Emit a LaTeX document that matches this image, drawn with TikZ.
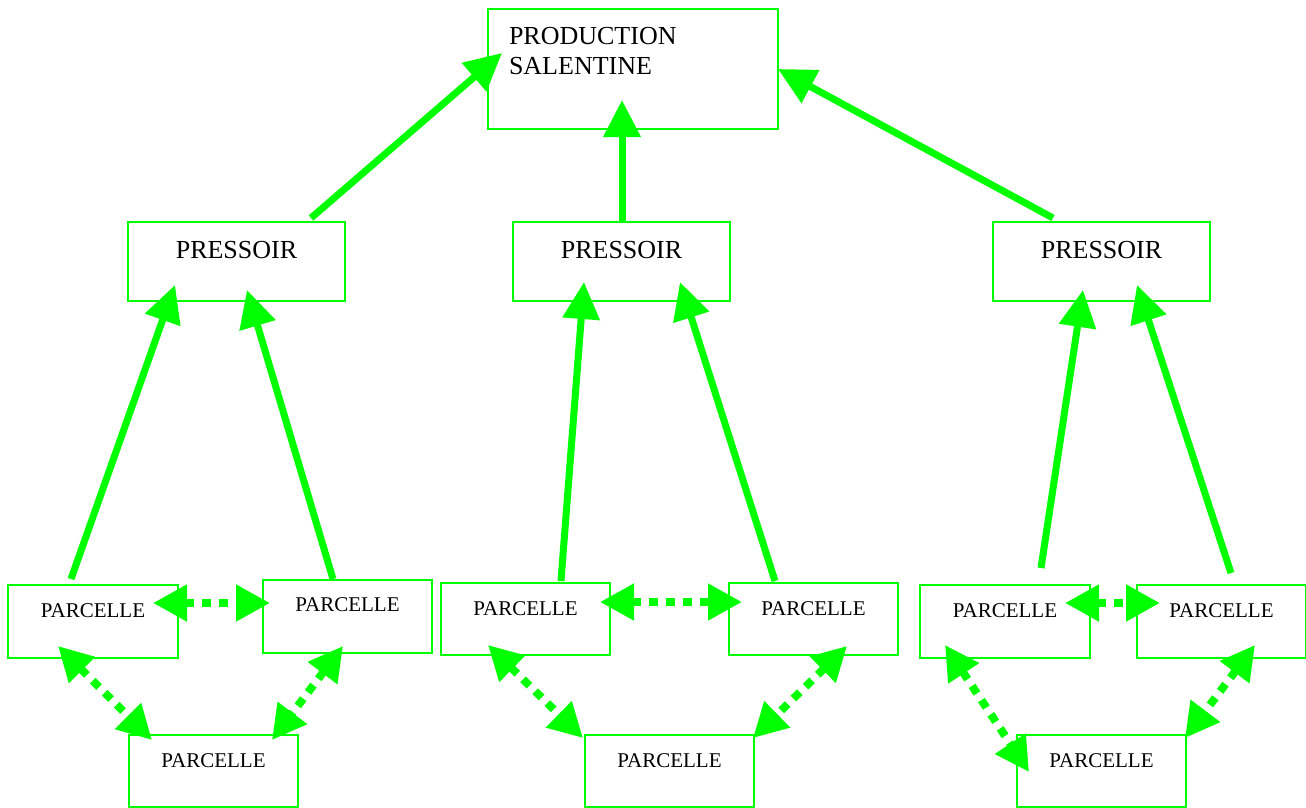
\documentclass[tikz,border=0pt]{standalone}
\usepackage{fontspec}
\setmainfont{Liberation Serif}
\usetikzlibrary{arrows.meta,calc}
\definecolor{linegreen}{RGB}{0,255,0}
\tikzset{
  box/.style={draw=linegreen, line width=2pt, inner sep=0pt, anchor=north west, align=center, text=black},
  parcelle/.style={box, minimum width=169pt, text height=32pt, text depth=40pt, font=\fontsize{21}{25}\selectfont},
  pressoir/.style={box, minimum width=217pt, text height=36pt, text depth=43pt, font=\fontsize{26}{30}\selectfont},
  flow/.style={draw=linegreen, line width=7pt, -{Triangle[length=37pt,width=36pt]}},
  link/.style={draw=linegreen, line width=8pt, dash pattern=on 9pt off 8pt,
    {Triangle[length=34pt,width=35pt]}-{Triangle[length=34pt,width=35pt]}}
}
\begin{document}
\begin{tikzpicture}[x=1pt,y=-1pt]
\useasboundingbox (0,0) rectangle (1306,807);

% top level
\node[box, text width=248pt, inner xsep=21pt, align=left, text height=35pt, text depth=85pt,
      font=\fontsize{26}{30}\selectfont] (prod) at (487,8) {PRODUCTION\\SALENTINE};

% presses
\node[pressoir] (pr1) at (127,221) {PRESSOIR};
\node[pressoir] (pr2) at (512,221) {PRESSOIR};
\node[pressoir] (pr3) at (992,221) {PRESSOIR};

% plots, group 1
\node[parcelle, minimum width=170pt, text depth=41pt] (a1L) at (7,584) {PARCELLE};
\node[parcelle, text height=31pt, text depth=42pt] (a1R) at (262,579) {PARCELLE};
\node[parcelle] (a1B) at (128,734) {PARCELLE};
% plots, group 2
\node[parcelle] (a2L) at (440,582) {PARCELLE};
\node[parcelle] (a2R) at (728,582) {PARCELLE};
\node[parcelle] (a2B) at (584,734) {PARCELLE};
% plots, group 3
\node[parcelle, minimum width=170pt, text depth=41pt] (a3L) at (919,584) {PARCELLE};
\node[parcelle, text depth=41pt] (a3R) at (1136,584) {PARCELLE};
\node[parcelle] (a3B) at (1016,734) {PARCELLE};

% presses to production
\draw[flow] ($(pr1.north west)+(184,-3)$) -- ($(prod.north west)+(15,45)$);
\draw[flow] ($(pr2.north west)+(110,0)$) -- ($(prod.north west)+(135,92)$);
\draw[flow] ($(pr3.north west)+(61,-3)$) -- ($(prod.north west)+(291,61)$);

% plots to presses
\draw[flow] ($(a1L.north west)+(64,-5)$) -- ($(pr1.north west)+(48,64)$);
\draw[flow] ($(a1R.north west)+(71,0)$) -- ($(pr1.north west)+(120,69)$);
\draw[flow] ($(a2L.north west)+(121,-1)$) -- ($(pr2.north west)+(72,61)$);
\draw[flow] ($(a2R.north west)+(47,-1)$) -- ($(pr2.north west)+(168,61)$);
\draw[flow] ($(a3L.north west)+(122,-16)$) -- ($(pr3.north west)+(91,69)$);
\draw[flow] ($(a3R.north west)+(95,-11)$) -- ($(pr3.north west)+(145,64)$);

% links between plots
\draw[link] ($(a1L.north west)+(146,19)$) -- ($(a1R.north west)+(8,24)$);
\draw[link] ($(a1L.north west)+(51,62)$) -- ($(a1B.north west)+(24,6)$);
\draw[link] ($(a1R.north west)+(81,67)$) -- ($(a1B.north west)+(144,6)$);

\draw[link] ($(a2L.north west)+(160,20)$) -- ($(a2R.north west)+(14,20)$);
\draw[link] ($(a2L.north west)+(48,63)$) -- ($(a2B.north west)+(-1,4)$);
\draw[link] ($(a2R.north west)+(119,64)$) -- ($(a2B.north west)+(169,4)$);

\draw[link] ($(a3L.north west)+(146,19)$) -- ($(a3R.north west)+(24,19)$);
\draw[link] ($(a3L.north west)+(26,61)$) -- ($(a3B.north west)+(13,38)$);
\draw[link] ($(a3R.north west)+(119,61)$) -- ($(a3B.north west)+(169,4)$);
\end{tikzpicture}
\end{document}
